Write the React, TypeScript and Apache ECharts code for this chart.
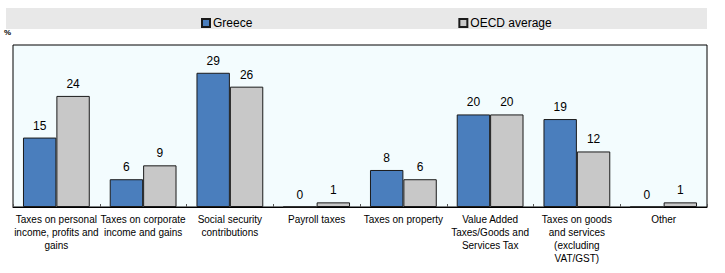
import React, { useEffect, useRef } from "react";
import * as echarts from "echarts";

const categories: string[] = [
  "Taxes on personal\nincome, profits and\ngains",
  "Taxes on corporate\nincome and gains",
  "Social security\ncontributions",
  "Payroll taxes",
  "Taxes on property",
  "Value Added\nTaxes/Goods and\nServices Tax",
  "Taxes on goods\nand services\n(excluding\nVAT/GST)",
  "Other",
];

const greece: number[] = [15, 6, 29, 0, 8, 20, 19, 0];
const oecdAverage: number[] = [24, 9, 26, 1, 6, 20, 12, 1];

const FONT = "'Liberation Sans', Arial, sans-serif";

export default function App() {
  const ref = useRef<HTMLDivElement>(null);

  useEffect(() => {
    document.body.style.margin = "0";
    const chart = echarts.init(ref.current!, null, { renderer: "svg" });
    const labelStyle = {
      show: true,
      position: "top" as const,
      distance: 6,
      color: "#000",
      fontSize: 12,
      fontFamily: FONT,
    };
    chart.setOption({
      animation: false,
      backgroundColor: "#ffffff",
      graphic: [
        {
          type: "rect",
          z: -1,
          shape: { x: 6, y: 8, width: 701, height: 21 },
          style: { fill: "#e8e8e8" },
        },
        {
          type: "text",
          left: 4,
          top: 28,
          style: { text: "%", fill: "#000", font: `bold 8px ${FONT}` },
        },
      ],
      legend: {
        left: 196,
        top: 12,
        itemWidth: 8,
        itemHeight: 8,
        itemGap: 206,
        icon: "rect",
        textStyle: { fontSize: 12, fontFamily: FONT, color: "#000", padding: [0, 0, 0, -2] },
        data: ["Greece", "OECD average"],
      },
      grid: {
        left: 13,
        right: 18,
        top: 45,
        bottom: 66,
        show: true,
        backgroundColor: "#f3fcfe",
        borderColor: "#000",
        borderWidth: 1,
      },
      xAxis: {
        type: "category",
        data: categories,
        axisLine: { lineStyle: { color: "#000" } },
        axisTick: { show: true, inside: true, length: 3, lineStyle: { color: "#555" } },
        axisLabel: {
          interval: 0,
          color: "#000",
          fontSize: 10,
          fontFamily: FONT,
          lineHeight: 13,
          margin: 6,
        },
      },
      yAxis: {
        type: "value",
        min: 0,
        max: 35,
        show: false,
        splitLine: { show: false },
      },
      series: [
        {
          name: "Greece",
          type: "bar",
          data: greece,
          barGap: "0%",
          barCategoryGap: "23%",
          itemStyle: { color: "#4a7ebd", borderColor: "#1a1a1a", borderWidth: 1 },
          label: labelStyle,
        },
        {
          name: "OECD average",
          type: "bar",
          data: oecdAverage,
          itemStyle: { color: "#c8c8c8", borderColor: "#1a1a1a", borderWidth: 1 },
          label: labelStyle,
        },
      ],
    });
    return () => chart.dispose();
  }, []);

  return (
    <div
      ref={ref}
      style={{ position: "fixed", left: 0, top: 0, width: 725, height: 273 }}
    />
  );
}
